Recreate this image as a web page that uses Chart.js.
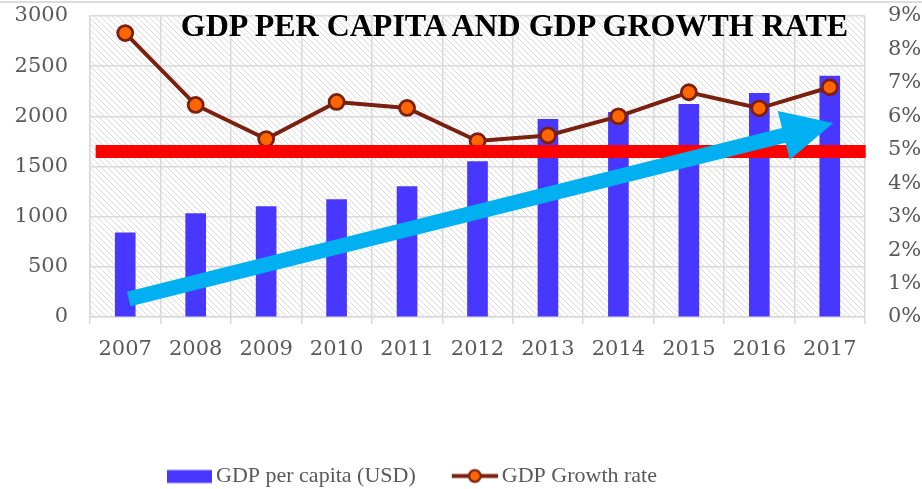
<!DOCTYPE html>
<html><head><meta charset="utf-8">
<script src="https://cdn.jsdelivr.net/npm/chart.js@4"></script>
<style>
html,body{margin:0;padding:0;background:#fff;}
#wrap{position:relative;width:922px;height:489px;overflow:hidden;}
#topline{position:absolute;left:0;top:1px;width:922px;height:2px;background:#dcdcdc;}
#title{position:absolute;left:107px;top:9px;width:815px;text-align:center;white-space:nowrap;
  font:bold 32px "Liberation Serif","Times New Roman",serif;line-height:32px;color:#000;pointer-events:none;}
canvas{position:absolute;left:0;top:0;}
</style></head>
<body><div id="wrap">
<canvas id="c" width="922" height="489"></canvas>
<div id="topline"></div>
<div id="title">GDP PER CAPITA AND GDP GROWTH RATE</div>
</div>
<script>
// ---- data ----
const years = ['2007','2008','2009','2010','2011','2012','2013','2014','2015','2016','2017'];
const gdpPerCapita = [840, 1030, 1100, 1170, 1300, 1550, 1970, 2040, 2120, 2230, 2400];
const growthRate = [8.49, 6.34, 5.32, 6.43, 6.25, 5.26, 5.43, 6.00, 6.72, 6.24, 6.87];
const leftTickValues = [0, 500, 1000, 1500, 2000, 2500, 3000];
const rightTickValues = [0, 1, 2, 3, 4, 5, 6, 7, 8, 9];
const seriesNames = ['GDP per capita (USD)', 'GDP Growth rate'];
// annotations (in data units: category index, growth %)
const referenceRate = 4.95;
const referenceSpan = [-0.42, 10.51];
const trendFrom = [0.05, 0.54];
const trendTo = [10.05, 5.80];

const barColor = '#4838FF';
const lineColor = '#7B200E';
const markerColor = '#FF6600';
const gridColor = '#d9d9d9';
const tickColor = '#595959';
const tickFont = {family: '"DejaVu Serif", serif', size: 21};

function makeIcon(draw){
  const cv = document.createElement('canvas'); cv.width = 52; cv.height = 17;
  draw(cv.getContext('2d')); return cv;
}
const barIcon = makeIcon(c => { c.fillStyle = barColor; c.fillRect(7, 2.5, 45, 13); });
const lineIcon = makeIcon(c => {
  c.strokeStyle = lineColor; c.lineWidth = 4;
  c.beginPath(); c.moveTo(6, 8.5); c.lineTo(52, 8.5); c.stroke();
  c.beginPath(); c.arc(29, 8.5, 5.8, 0, Math.PI*2); c.fillStyle = markerColor; c.fill();
  c.lineWidth = 2.2; c.stroke();
});

const hatchBg = {
  id: 'hatchBg',
  beforeDraw(chart){
    const {ctx, chartArea: a} = chart;
    const t = document.createElement('canvas'); t.width = 6; t.height = 6;
    const c = t.getContext('2d');
    c.strokeStyle = '#dcdcdc'; c.lineWidth = 1;
    c.beginPath();
    c.moveTo(-1,-1); c.lineTo(7,7);
    c.moveTo(-1,5); c.lineTo(1,7);
    c.moveTo(5,-1); c.lineTo(7,1);
    c.stroke();
    ctx.save();
    ctx.fillStyle = '#fff'; ctx.fillRect(0, 0, chart.width, chart.height);
    ctx.fillStyle = ctx.createPattern(t, 'repeat');
    ctx.fillRect(a.left, a.top, a.right - a.left, a.bottom - a.top);
    ctx.restore();
  }
};

const overlays = {
  id: 'overlays',
  afterDatasetsDraw(chart){
    const {ctx, scales:{x, y1}} = chart;
    ctx.save();
    // red reference line
    const ry = y1.getPixelForValue(referenceRate);
    ctx.strokeStyle = '#FF0000'; ctx.lineWidth = 13; ctx.lineCap = 'butt';
    ctx.beginPath();
    ctx.moveTo(x.getPixelForValue(referenceSpan[0]), ry);
    ctx.lineTo(x.getPixelForValue(referenceSpan[1]), ry);
    ctx.stroke();
    // trend arrow
    const x0 = x.getPixelForValue(trendFrom[0]), y0 = y1.getPixelForValue(trendFrom[1]);
    const x1 = x.getPixelForValue(trendTo[0]), y1p = y1.getPixelForValue(trendTo[1]);
    const dx = x1 - x0, dy = y1p - y0, L = Math.hypot(dx, dy);
    const ux = dx / L, uy = dy / L, nx = -uy, ny = ux;
    const sw = 7.5, hw = 25, hl = 51;
    const bx = x1 - ux*hl, by = y1p - uy*hl;
    ctx.fillStyle = '#00B0F0';
    ctx.beginPath();
    ctx.moveTo(x0 + nx*sw, y0 + ny*sw);
    ctx.lineTo(bx + nx*sw, by + ny*sw);
    ctx.lineTo(bx + nx*hw, by + ny*hw);
    ctx.lineTo(x1, y1p);
    ctx.lineTo(bx - nx*hw, by - ny*hw);
    ctx.lineTo(bx - nx*sw, by - ny*sw);
    ctx.lineTo(x0 - nx*sw, y0 - ny*sw);
    ctx.closePath(); ctx.fill();
    ctx.restore();
  }
};

const legendPlace = {
  id: 'legendPlace',
  afterLayout(chart){
    const lg = chart.legend;
    if (!lg) return;
    const h = lg.height;
    lg.left = 130; lg.top = 428; lg.bottom = 428 + h;
  }
};

new Chart(document.getElementById('c'), {
  data: {
    labels: years,
    datasets: [
      {type: 'bar', label: seriesNames[0], data: gdpPerCapita, backgroundColor: barColor,
       barThickness: 20, yAxisID: 'y', order: 2},
      {type: 'line', label: seriesNames[1], data: growthRate, yAxisID: 'y1', order: 1,
       borderColor: lineColor, borderWidth: 4, tension: 0,
       pointRadius: 7.5, pointBackgroundColor: markerColor, pointBorderColor: lineColor, pointBorderWidth: 2.8}
    ]
  },
  options: {
    responsive: false, animation: false, devicePixelRatio: 1,
    layout: {padding: {top: 16, left: 0, right: 0, bottom: 0}},
    plugins: {
      tooltip: {enabled: false},
      title: {display: false},
      legend: {
        position: 'bottom', align: 'start',
        labels: {
          usePointStyle: true, pointStyleWidth: 38, padding: 37,
          color: tickColor, font: {family: '"Liberation Serif", serif', size: 22},
          generateLabels: () => [
            {text: seriesNames[0], pointStyle: barIcon, fillStyle: barColor, strokeStyle: barColor, lineWidth: 0, hidden: false, datasetIndex: 0, fontColor: tickColor},
            {text: seriesNames[1], pointStyle: lineIcon, fillStyle: markerColor, strokeStyle: lineColor, lineWidth: 0, hidden: false, datasetIndex: 1, fontColor: tickColor}
          ]
        }
      }
    },
    scales: {
      x: {
        offset: true,
        grid: {color: gridColor, lineWidth: 1.5, offset: true, tickLength: 7, drawTicks: true},
        border: {color: gridColor, width: 1.5},
        ticks: {font: tickFont, color: tickColor, padding: 13, maxRotation: 0, autoSkip: false},
        afterFit(s){ const lg = s.chart.legend; s.height = 489 - 317 - (lg ? lg.height : 0); }
      },
      y: {
        position: 'left', min: 0, max: 3000,
        afterBuildTicks(s){ s.ticks = leftTickValues.map(v => ({value: v})); },
        grid: {color: gridColor, lineWidth: 1.5, drawTicks: true, tickLength: 22, tickColor: 'rgba(0,0,0,0)'},
        border: {color: gridColor, width: 1.5},
        ticks: {font: tickFont, color: tickColor, padding: 0, callback: v => String(v)},
        afterFit(s){ s.width = 90; }
      },
      y1: {
        position: 'right', min: 0, max: 9,
        afterBuildTicks(s){ s.ticks = rightTickValues.map(v => ({value: v})); },
        grid: {drawOnChartArea: false, drawTicks: true, tickLength: 23, tickColor: 'rgba(0,0,0,0)'},
        border: {display: false},
        ticks: {font: tickFont, color: tickColor, padding: 0, callback: v => v + '%'},
        afterFit(s){ s.width = 57; }
      }
    }
  },
  plugins: [hatchBg, overlays, legendPlace]
});
</script>
</body></html>
